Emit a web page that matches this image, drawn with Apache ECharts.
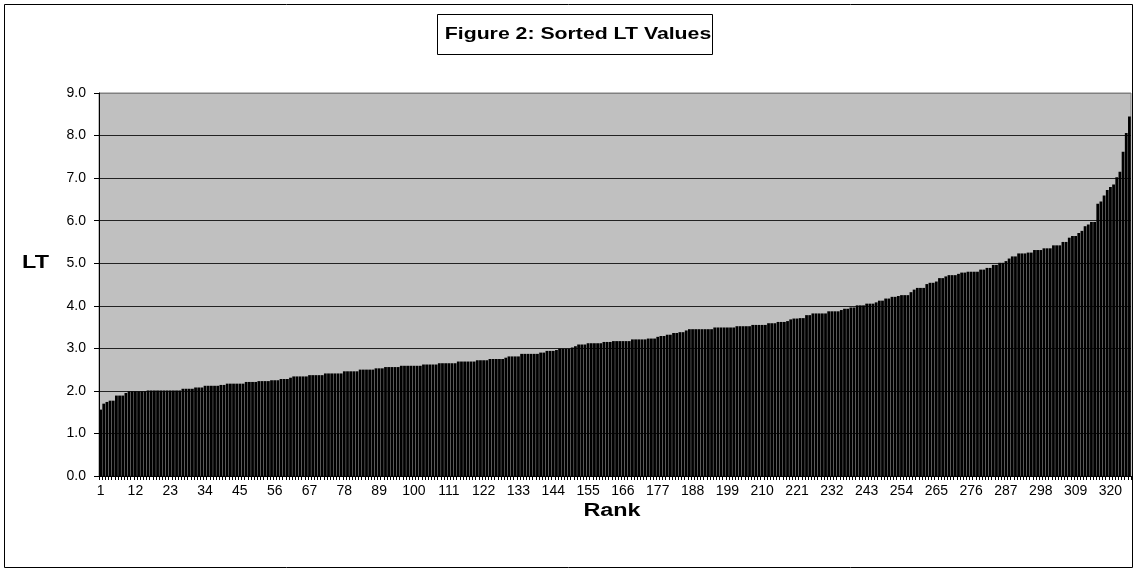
<!DOCTYPE html>
<html>
<head>
<meta charset="utf-8">
<script src="https://cdn.jsdelivr.net/npm/echarts@6/dist/echarts.min.js"></script>
<style>
html,body{margin:0;padding:0;background:#fff;}
#chart{width:1138px;height:573px;}
</style>
</head>
<body>
<div id="chart"></div>
<script>
// Sorted LT values, rank 1..326
var ltValues = [
1.56,1.70,1.74,1.77,1.77,1.89,1.89,1.89,1.95,1.99,
1.99,1.99,1.99,1.99,1.99,2.01,2.01,2.01,2.01,2.01,
2.01,2.01,2.01,2.01,2.01,2.01,2.05,2.05,2.05,2.05,
2.08,2.08,2.08,2.12,2.12,2.12,2.12,2.12,2.14,2.14,
2.17,2.17,2.17,2.17,2.17,2.17,2.21,2.21,2.21,2.21,
2.23,2.23,2.23,2.23,2.25,2.25,2.25,2.28,2.28,2.28,
2.31,2.34,2.34,2.34,2.34,2.34,2.37,2.37,2.37,2.37,
2.37,2.41,2.41,2.41,2.41,2.41,2.41,2.46,2.46,2.46,
2.46,2.46,2.50,2.50,2.50,2.50,2.50,2.53,2.53,2.53,
2.56,2.56,2.56,2.56,2.56,2.59,2.59,2.59,2.59,2.59,
2.59,2.59,2.62,2.62,2.62,2.62,2.62,2.65,2.65,2.65,
2.65,2.65,2.65,2.69,2.69,2.69,2.69,2.69,2.69,2.72,
2.72,2.72,2.72,2.75,2.75,2.75,2.75,2.75,2.78,2.81,
2.81,2.81,2.81,2.87,2.87,2.87,2.87,2.87,2.87,2.90,
2.90,2.94,2.94,2.94,2.96,2.99,2.99,2.99,2.99,3.02,
3.05,3.09,3.09,3.09,3.12,3.12,3.12,3.12,3.12,3.15,
3.15,3.15,3.17,3.17,3.17,3.17,3.17,3.17,3.21,3.21,
3.21,3.21,3.21,3.23,3.23,3.23,3.27,3.29,3.29,3.32,
3.32,3.36,3.36,3.38,3.38,3.42,3.45,3.45,3.45,3.45,
3.45,3.45,3.45,3.45,3.49,3.49,3.49,3.49,3.49,3.49,
3.49,3.52,3.52,3.52,3.52,3.52,3.55,3.55,3.55,3.55,
3.55,3.59,3.59,3.59,3.62,3.62,3.62,3.64,3.68,3.70,
3.70,3.71,3.71,3.78,3.78,3.82,3.82,3.82,3.82,3.82,
3.87,3.87,3.87,3.87,3.90,3.93,3.93,3.96,3.96,4.01,
4.01,4.01,4.05,4.05,4.05,4.08,4.12,4.12,4.17,4.17,
4.21,4.21,4.23,4.25,4.25,4.25,4.32,4.38,4.42,4.42,
4.42,4.51,4.54,4.54,4.57,4.65,4.65,4.69,4.72,4.72,
4.72,4.75,4.78,4.78,4.80,4.80,4.80,4.80,4.85,4.85,
4.89,4.89,4.96,4.96,5.01,5.01,5.05,5.11,5.16,5.16,
5.23,5.23,5.23,5.25,5.25,5.31,5.31,5.31,5.35,5.35,
5.35,5.42,5.42,5.42,5.50,5.50,5.60,5.64,5.64,5.71,
5.76,5.87,5.91,5.97,5.97,6.40,6.45,6.59,6.72,6.79,
6.85,7.02,7.15,7.62,8.06,8.45
];
var ranks = ltValues.map(function(v, i){ return String(i + 1); });
var yTicks = { min: 0, max: 9, step: 1 };
var titleText = 'Figure 2: Sorted LT Values';
var xName = 'Rank';
var yName = 'LT';

var chart = echarts.init(document.getElementById('chart'), null, {renderer: 'canvas'});
var font = 'Arial, "Liberation Sans", Helvetica, sans-serif';
var gridColors = ['#000','#222','#222','#222','#222','#222','#222','#222','#222','#808080'];
chart.setOption({
  animation: false,
  backgroundColor: '#ffffff',
  textStyle: { fontFamily: font },
  grid: {
    left: 99, right: 7, top: 93, bottom: 97,
    show: true, backgroundColor: '#c0c0c0', borderColor: '#808080', borderWidth: 1
  },
  xAxis: {
    type: 'category',
    data: ranks,
    boundaryGap: true,
    axisLine: { show: true, lineStyle: { color: '#000', width: 1 } },
    axisTick: { show: true, interval: 0, length: 4, lineStyle: { color: '#000' } },
    axisLabel: { interval: 10, color: '#000', fontSize: 14, margin: 8, fontFamily: font },
    splitLine: { show: false }
  },
  yAxis: {
    type: 'value',
    min: yTicks.min, max: yTicks.max, interval: yTicks.step,
    axisLine: { show: true, lineStyle: { color: '#000', width: 1 } },
    axisTick: { show: true, length: 5, inside: false, lineStyle: { color: '#000' } },
    axisLabel: { color: '#000', fontSize: 14, margin: 13, fontFamily: font,
      formatter: function(v){ return v.toFixed(1); } },
    splitLine: { show: true, lineStyle: { color: gridColors, width: 1 } }
  },
  series: [{
    type: 'bar',
    data: ltValues,
    barCategoryGap: '12%',
    itemStyle: { color: '#000000' },
    silent: true
  }],
  graphic: [
    { type: 'rect', shape: { x: 4.5, y: 4.5, width: 1128, height: 563 },
      style: { fill: 'none', stroke: '#000', lineWidth: 1 }, silent: true },
    { type: 'rect', shape: { x: 437.5, y: 14.5, width: 275, height: 40 },
      style: { fill: '#fff', stroke: '#000', lineWidth: 1 }, silent: true },
    { type: 'text', x: 578, y: 34, scaleX: 1.25,
      style: { text: titleText, fill: '#000', font: 'bold 17px ' + font,
        textAlign: 'center', textVerticalAlign: 'middle' }, silent: true },
    { type: 'text', x: 35.5, y: 263, scaleX: 1.3,
      style: { text: yName, fill: '#000', font: 'bold 18px ' + font,
        textAlign: 'center', textVerticalAlign: 'middle' }, silent: true },
    { type: 'text', x: 612, y: 511, scaleX: 1.3,
      style: { text: xName, fill: '#000', font: 'bold 18px ' + font,
        textAlign: 'center', textVerticalAlign: 'middle' }, silent: true }
  ]
});
</script>
</body>
</html>
